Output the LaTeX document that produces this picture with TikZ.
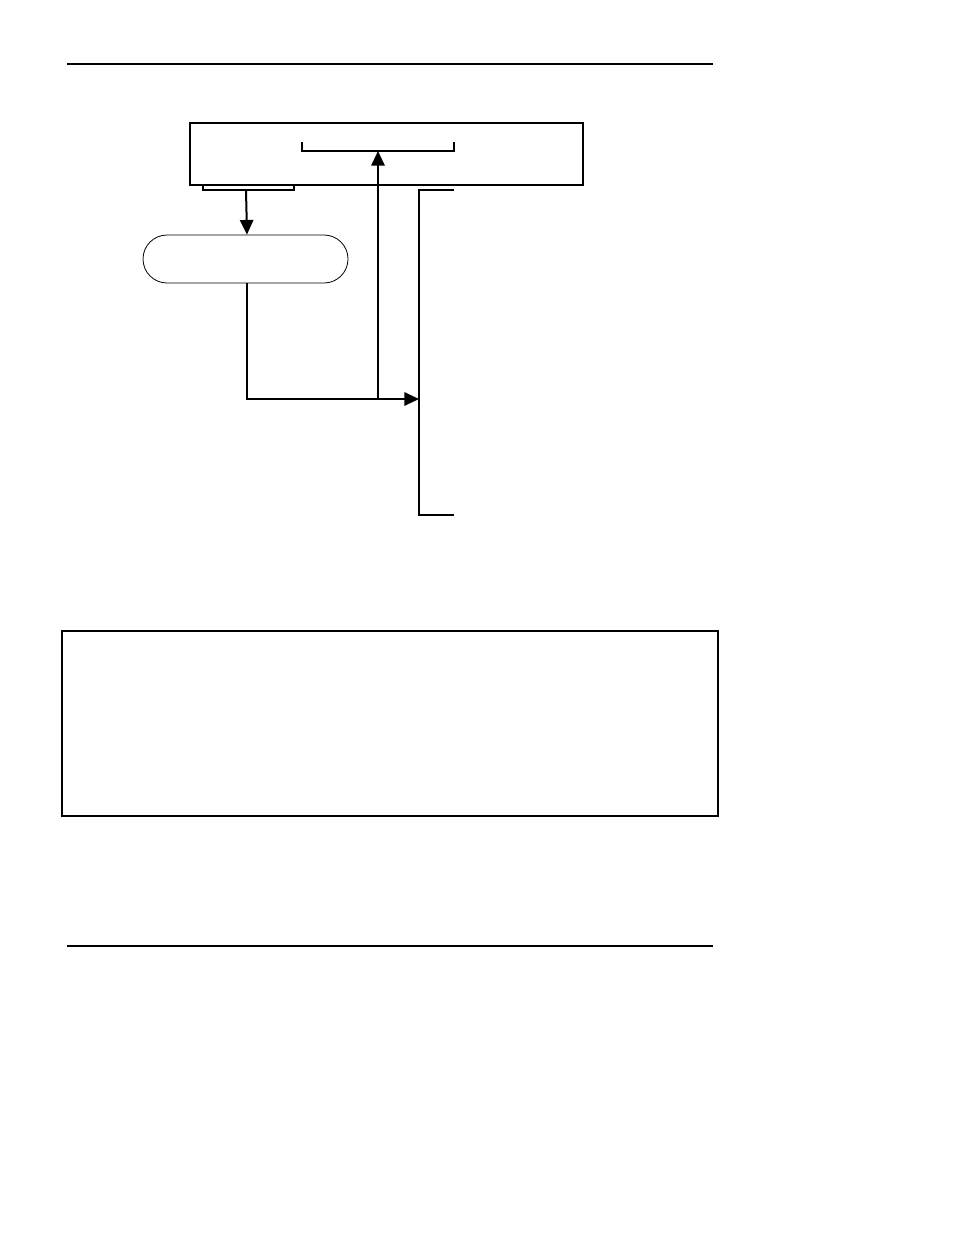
\documentclass[tikz,border=0pt]{standalone}
\usepackage{tikz}
\usetikzlibrary{arrows.meta}
\usetikzlibrary{shapes.misc}

\begin{document}
\begin{tikzpicture}[x=0.75pt,y=-0.75pt,
    box/.style={draw,line width=1.2pt,inner sep=0pt},
    pill/.style={draw,rounded rectangle,line width=0.6pt,inner sep=0pt,minimum width=153.75pt,minimum height=36pt},
    brk/.style={line width=1.4pt},
    flow/.style={line width=1.5pt,-{Triangle[length=11pt,width=10pt]}}]
      \useasboundingbox (0,0) rectangle (954,1235);
      \draw[line width=1pt] (67,64) -- (713,64);
      \draw[line width=1pt] (67,946) -- (713,946);
      \node[box,minimum width=294.75pt,minimum height=46.5pt] (head) at (386.5,154) {};
      \node[pill] (proc) at (245.5,259) {};
      \node[box,minimum width=492pt,minimum height=138.75pt] (note) at (390,723.5) {};
      % brackets
      \draw[brk] (302,142) -- (302,151) -- (454,151) -- (454,142);
      \coordinate (top) at (378,151);
      \draw[brk] (203,185) -- (203,190) -- (294,190) -- (294,185);
      \coordinate (low) at (246,190);
      \draw[brk] (454,190) -- (419,190) -- (419,515) -- (454,515);
      \coordinate (side) at (419,399);
      \coordinate (bend) at (247,399);
      \coordinate (split) at (378,399);
      % connectors
      \draw[flow] (low) -- (proc.north -| bend);
      \draw[flow] (proc.south -| bend) -- (bend) -- (side);
      \draw[flow] (split) -- (top);
\end{tikzpicture}
\end{document}
